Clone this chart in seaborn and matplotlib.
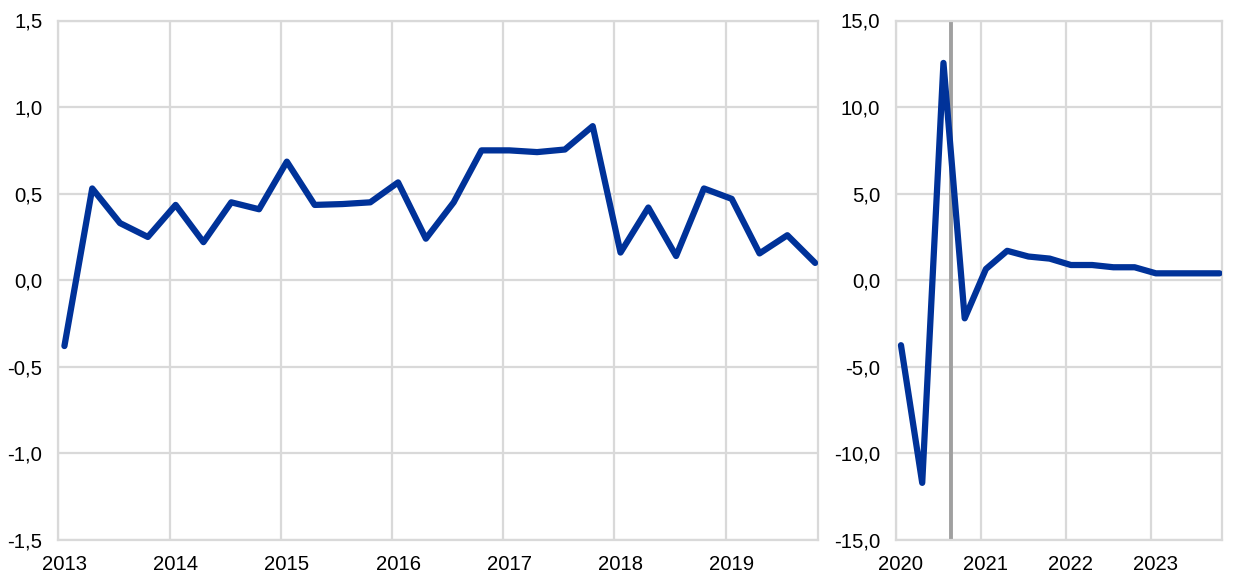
import numpy as np
import pandas as pd
import matplotlib
matplotlib.use("Agg")
import matplotlib.pyplot as plt
from matplotlib.ticker import FuncFormatter, FixedLocator
import seaborn as sns

# ---- data ----
left_start_year = 2013
left_values = [-0.38, 0.53, 0.33, 0.25, 0.435, 0.22, 0.45, 0.41,
               0.685, 0.435, 0.44, 0.45, 0.565, 0.24, 0.45, 0.75,
               0.75, 0.74, 0.755, 0.89, 0.16, 0.42, 0.14, 0.53,
               0.47, 0.155, 0.26, 0.10]
left_years = [2013, 2014, 2015, 2016, 2017, 2018, 2019]
left_yticks = [-1.5, -1.0, -0.5, 0.0, 0.5, 1.0, 1.5]

right_start_year = 2020
right_values = [-3.75, -11.7, 12.55, -2.2, 0.65, 1.7, 1.37, 1.25,
                0.88, 0.88, 0.75, 0.75, 0.4, 0.4, 0.4, 0.4]
right_years = [2020, 2021, 2022, 2023]
right_yticks = [-15.0, -10.0, -5.0, 0.0, 5.0, 10.0, 15.0]
projection_marker = 2020.64

# ---- style ----
sns.set_style("white")
plt.rcParams["font.family"] = ["Liberation Sans", "DejaVu Sans"]
FS = 14.6
BLUE = "#003299"
GRID = "#d9d9d9"
OFF = 0.055  # point offset within the year (monthly category centre)

def quarters(start, n):
    return [start + i * 0.25 + OFF for i in range(n)]

left_df = pd.DataFrame({"x": quarters(left_start_year, len(left_values)), "y": left_values})
right_df = pd.DataFrame({"x": quarters(right_start_year, len(right_values)), "y": right_values})

fig = plt.figure(figsize=(12.4, 5.82), dpi=100)
W, H = 1240, 582
axL = fig.add_axes([58.3 / W, (H - 540) / H, (818.3 - 58.3) / W, (540 - 20.5) / H])
axR = fig.add_axes([896.3 / W, (H - 540) / H, (1222 - 896.3) / W, (540 - 20.5) / H])

fmt = FuncFormatter(lambda v, p: f"{v:.1f}".replace(".", ","))

def style(ax, years, yticks, xend):
    ax.set_xlim(years[0], xend)
    ax.set_ylim(yticks[0], yticks[-1])
    ax.set_yticks(yticks)
    ax.yaxis.set_major_formatter(fmt)
    ax.xaxis.set_major_locator(FixedLocator(years))
    ax.xaxis.set_major_formatter(FuncFormatter(lambda v, p: ""))
    ax.xaxis.set_minor_locator(FixedLocator([y + OFF for y in years]))
    ax.xaxis.set_minor_formatter(FuncFormatter(lambda v, p: f"{int(round(v - OFF))}"))
    ax.tick_params(axis="x", which="both", length=0, labelsize=FS, pad=11, colors="black")
    ax.tick_params(axis="y", length=0, labelsize=FS, pad=11.5, colors="black")
    ax.grid(True, which="major", color=GRID, linewidth=1.6)
    ax.set_axisbelow(True)
    for s in ax.spines.values():
        s.set_color(GRID)
        s.set_linewidth(1.6)
        s.set_visible(True)
    ax.set_xlabel("")
    ax.set_ylabel("")

sns.lineplot(data=left_df, x="x", y="y", ax=axL, color=BLUE, linewidth=4.5,
             solid_capstyle="round", solid_joinstyle="round", zorder=3)
style(axL, left_years, left_yticks, left_start_year + 82 / 12)

axR.axvline(projection_marker, color="#a0a0a0", linewidth=2.8, zorder=2)
sns.lineplot(data=right_df, x="x", y="y", ax=axR, color=BLUE, linewidth=4.5,
             solid_capstyle="round", solid_joinstyle="round", zorder=3)
style(axR, right_years, right_yticks, right_start_year + 46 / 12)

fig.savefig("out.png", dpi=100)
